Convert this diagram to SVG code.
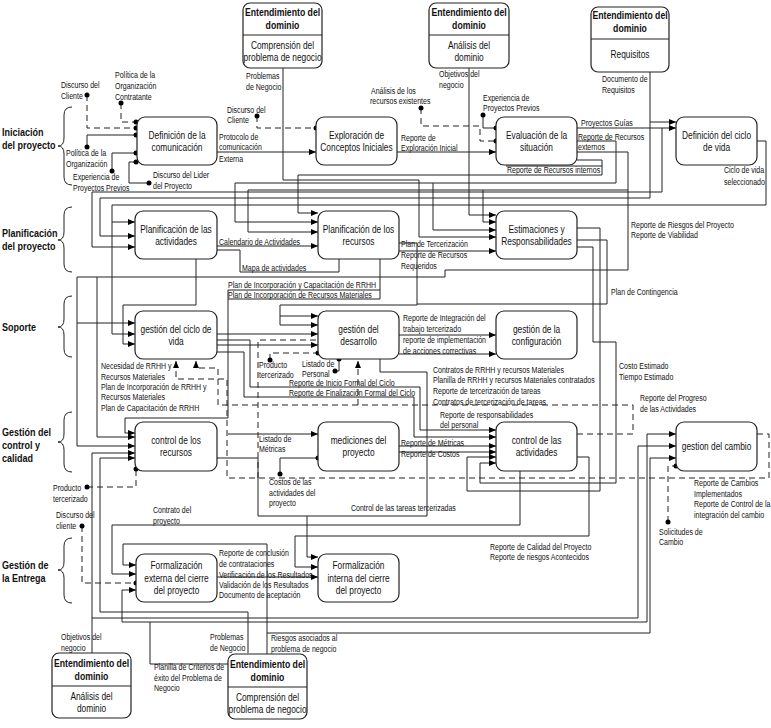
<svg xmlns="http://www.w3.org/2000/svg" width="771" height="728" viewBox="0 0 771 728">
<defs>
<marker id="a" markerWidth="7" markerHeight="6" refX="7" refY="3" orient="auto" markerUnits="userSpaceOnUse"><path d="M0,0 L7,3 L0,6 z" fill="#000"/></marker>
<marker id="d" markerWidth="6" markerHeight="6" refX="3" refY="3" markerUnits="userSpaceOnUse"><circle cx="3" cy="3" r="2.5" fill="#000"/></marker>
<style>
.c{fill:none;stroke:#222;stroke-width:1}
.ds{stroke-dasharray:6,4}
.ar{marker-end:url(#a)}
.dd{marker-start:url(#d);marker-end:url(#d)}
.box{fill:#fff;stroke:#222;stroke-width:1.2}
text{font-family:"Liberation Sans",Arial,sans-serif;fill:#111;transform-box:fill-box}
.t{font-size:11px;text-anchor:middle;transform:scaleX(.76);transform-origin:50% 50%}
.h{font-size:11px;font-weight:bold;text-anchor:middle;transform:scaleX(.79);transform-origin:50% 50%}
.l{font-size:9px;transform:scaleX(.78);transform-origin:0 50%}
.p{font-size:11px;font-weight:bold;transform:scaleX(.82);transform-origin:0 50%}
.br{fill:none;stroke:#222;stroke-width:1}
</style>
</defs>
<rect width="771" height="728" fill="#fff"/>

<g id="phases">
<text class="p" x="2" y="136">Iniciación</text><text class="p" x="2" y="149">del proyecto</text>
<path class="br" d="M72,107 Q64,107 64,115 V138 Q64,146 58,146 Q64,146 64,154 V177 Q64,185 72,185"/>
<text class="p" x="2" y="237">Planificación</text><text class="p" x="2" y="250">del proyecto</text>
<path class="br" d="M72,207 Q64,207 64,215 V232 Q64,240 58,240 Q64,240 64,248 V264 Q64,272 72,272"/>
<text class="p" x="2" y="331">Soporte</text>
<path class="br" d="M72,296 Q64,296 64,304 V319 Q64,327 58,327 Q64,327 64,335 V349 Q64,357 72,357"/>
<text class="p" x="2" y="436">Gestión del</text><text class="p" x="2" y="449">control y</text><text class="p" x="2" y="462">calidad</text>
<path class="br" d="M72,412 Q64,412 64,420 V434 Q64,442 58,442 Q64,442 64,450 V464 Q64,472 72,472"/>
<text class="p" x="2" y="569">Gestión de</text><text class="p" x="2" y="582">la Entrega</text>
<path class="br" d="M72,538 Q64,538 64,546 V562 Q64,570 58,570 Q64,570 64,578 V595 Q64,603 72,603"/>
</g>

<g id="connectors">
<path class="c ds dd" d="M87,95 V128 H136"/>
<path class="c ds dd" d="M121,103 V122 H136"/>
<path class="c dd" d="M87,147 V135 H136"/>
<path class="c dd" d="M112,171 V153 H136"/>
<path class="c dd" d="M149,183 H129 V162 H136"/>
<path class="c ar" d="M217,152 H316"/>
<path class="c ds dd" d="M257,116 V128 H316"/>
<path class="c ar" d="M283,68 V180 H419 V237 H496"/>
<path class="c ar" d="M397,152 H496"/>
<path class="c ds dd" d="M421,108 V126 H480 V141 H496"/>
<path class="c dd" d="M483,115 V128 H496"/>
<path class="c ar" d="M469,68 V215 H496"/>
<path class="c ar" d="M577,128 H676"/>
<path class="c ar" d="M650,72 V198 H100 V236 H135"/>
<path class="c ar" d="M650,122 H676"/>
<path class="c ar" d="M662,128 V192 H92 V247 H135"/>
<path class="c ar" d="M577,141 H616 V183 H235 V222 H318"/>
<path class="c ar" d="M433,183 V230 H496"/>
<path class="c ar" d="M577,152 H628 V190 H248 V232 H318"/>
<path class="c ar" d="M483,190 V222 H496"/>
<path class="c ar" d="M577,160 H602 V175 H298 V213 H318"/>
<path class="c" d="M506,166 H602"/>
<path class="c ar" d="M757,141 H766 V205 H112 V334 H135"/>
<path class="c ar" d="M112,222 H135"/>

<path class="c ar" d="M217,246 H318"/>
<path class="c" d="M217,250 H240 V272 H339 V259"/>
<path class="c ar" d="M196,259 V305 H123 V344 H135"/>
<path class="c ar" d="M399,243 H417 V305 H280 V325 H318"/>
<path class="c ar" d="M280,316 H318"/>
<path class="c ar" d="M399,251 H496"/>
<path class="c ar" d="M577,228 H600 V491 H467 V457 H496"/>
<path class="c ar" d="M577,247 H593 V342 H616 V483 H480 V463 H496"/>
<path class="c" d="M577,240 H607 V304 H417"/>
<path class="c ar" d="M628,190 V270 H445 V277 H77 V446 H135"/>
<path class="c ar" d="M77,323 H135"/>
<path class="c" d="M380,259 V299 H228"/>
<path class="c ar" d="M380,290 H228 V418 H125 V433 H135"/>
<path class="c ar" d="M97,277 V437 H135"/>

<path class="c ar" d="M217,334 H318"/>
<path class="c ar" d="M217,345 H318"/>
<path class="c ds" d="M258,478 V340 H316"/>
<path class="c ds dd" d="M270,360 V353 H318"/>
<path class="c dd" d="M335,371 H339 V359"/>
<path class="c ds ar" d="M358,405 V361"/>
<path class="c ar" d="M399,335 H496"/>
<path class="c ar" d="M399,354 H496"/>
<path class="c ar" d="M380,359 V372 H427 V516 H307 V557 H318"/>
<path class="c ar" d="M217,340 H250 V387 H420 V430 H496"/>
<path class="c ar" d="M217,352 H244 V397 H414 V437 H496"/>
<path class="c ds ar" d="M577,434 H633 V405 H218 V368 H196 V361"/>
<path class="c ds ar" d="M757,434 H769 V478 H227 V379 H176 V361"/>

<path class="c ar" d="M92,653 V453 H135"/>
<path class="c ar" d="M92,618 H638 V446 H676"/>
<path class="c ar" d="M248,653 V612 H100 V458 H135"/>
<path class="c ds dd" d="M87,487 H136 V469"/>
<path class="c ar" d="M228,434 H318"/>
<path class="c dd" d="M280,474 V458 H318"/>
<path class="c" d="M217,458 H258 V516 H307"/>
<path class="c ar" d="M399,446 H496"/>
<path class="c ar" d="M399,452 H496"/>
<path class="c ar" d="M577,457 H589 V536 H295 V567 H318"/>
<path class="c ds dd" d="M668,522 V466 H676"/>
<path class="c ar" d="M228,664 H150 V622 H122 V590 H136"/>
<path class="c ar" d="M150,622 H647 V434 H676"/>
<path class="c ar" d="M267,654 V633 H650 V458 H676"/>
<path class="c ar" d="M267,633 V544 H123 V565 H136"/>
<path class="c ar" d="M520,471 V525 H112 V574 H136"/>
<path class="c ds dd" d="M82,526 V583 H136"/>
<path class="c ar" d="M217,577 H318"/>
</g>

<g id="n-ent1"><rect class="box" x="243" y="3" width="79" height="65" rx="7"/><line class="c" x1="243" y1="35" x2="322" y2="35"/>
<text class="h" x="282.5" y="16">Entendimiento del</text><text class="h" x="282.5" y="29">dominio</text>
<text class="t" x="282.5" y="49">Comprensión del</text><text class="t" x="282.5" y="61">problema de negocio</text></g>
<g id="n-ent2"><rect class="box" x="429" y="3" width="80" height="65" rx="7"/><line class="c" x1="429" y1="35" x2="509" y2="35"/>
<text class="h" x="469" y="16">Entendimiento del</text><text class="h" x="469" y="29">dominio</text>
<text class="t" x="469" y="49">Análisis del</text><text class="t" x="469" y="61">dominio</text></g>
<g id="n-ent3"><rect class="box" x="591" y="7" width="78" height="65" rx="7"/><line class="c" x1="591" y1="39" x2="669" y2="39"/>
<text class="h" x="630" y="19">Entendimiento del</text><text class="h" x="630" y="32">dominio</text>
<text class="t" x="630" y="58">Requisitos</text></g>
<g id="n-ent4"><rect class="box" x="52" y="653" width="79" height="65" rx="7"/><line class="c" x1="52" y1="686" x2="131" y2="686"/>
<text class="h" x="91.5" y="667">Entendimiento del</text><text class="h" x="91.5" y="680">dominio</text>
<text class="t" x="91.5" y="700">Análisis del</text><text class="t" x="91.5" y="712">dominio</text></g>
<g id="n-ent5"><rect class="box" x="228" y="654" width="79" height="65" rx="7"/><line class="c" x1="228" y1="687" x2="307" y2="687"/>
<text class="h" x="267.5" y="668">Entendimiento del</text><text class="h" x="267.5" y="681">dominio</text>
<text class="t" x="267.5" y="701">Comprensión del</text><text class="t" x="267.5" y="713">problema de negocio</text></g>

<g id="n-defcom"><rect class="box" x="137" y="117" width="80" height="48" rx="8"/><text class="t" x="177" y="139">Definición de la</text><text class="t" x="177" y="151">comunicación</text></g>
<g id="n-explo"><rect class="box" x="316" y="117" width="81" height="48" rx="8"/><text class="t" x="356.5" y="139">Exploración de</text><text class="t" x="356.5" y="151">Conceptos Iniciales</text></g>
<g id="n-eval"><rect class="box" x="496" y="117" width="81" height="48" rx="8"/><text class="t" x="536.5" y="139">Evaluación de la</text><text class="t" x="536.5" y="151">situación</text></g>
<g id="n-ciclo"><rect class="box" x="676" y="117" width="81" height="48" rx="8"/><text class="t" x="716.5" y="139">Definición del ciclo</text><text class="t" x="716.5" y="151">de vida</text></g>
<g id="n-planact"><rect class="box" x="135" y="211" width="82" height="48" rx="8"/><text class="t" x="176" y="233">Planificación de las</text><text class="t" x="176" y="245">actividades</text></g>
<g id="n-planrec"><rect class="box" x="318" y="211" width="81" height="48" rx="8"/><text class="t" x="358.5" y="233">Planificación de los</text><text class="t" x="358.5" y="245">recursos</text></g>
<g id="n-estim"><rect class="box" x="496" y="211" width="81" height="48" rx="8"/><text class="t" x="536.5" y="233">Estimaciones y</text><text class="t" x="536.5" y="245">Responsabilidades</text></g>
<g id="n-gcv"><rect class="box" x="135" y="311" width="82" height="48" rx="8"/><text class="t" x="176" y="333">gestión del ciclo de</text><text class="t" x="176" y="345">vida</text></g>
<g id="n-gdes"><rect class="box" x="318" y="311" width="81" height="48" rx="8"/><text class="t" x="358.5" y="333">gestión del</text><text class="t" x="358.5" y="345">desarrollo</text></g>
<g id="n-gconf"><rect class="box" x="496" y="311" width="81" height="48" rx="8"/><text class="t" x="536.5" y="333">gestión de la</text><text class="t" x="536.5" y="345">configuración</text></g>
<g id="n-crec"><rect class="box" x="135" y="422" width="82" height="49" rx="8"/><text class="t" x="176" y="444">control de los</text><text class="t" x="176" y="456">recursos</text></g>
<g id="n-med"><rect class="box" x="318" y="422" width="81" height="49" rx="8"/><text class="t" x="358.5" y="444">mediciones del</text><text class="t" x="358.5" y="456">proyecto</text></g>
<g id="n-cact"><rect class="box" x="496" y="422" width="81" height="49" rx="8"/><text class="t" x="536.5" y="444">control de las</text><text class="t" x="536.5" y="456">actividades</text></g>
<g id="n-gcam"><rect class="box" x="676" y="422" width="81" height="49" rx="8"/><text class="t" x="716.5" y="450">gestion del cambio</text></g>
<g id="n-fext"><rect class="box" x="136" y="554" width="81" height="48" rx="8"/><text class="t" x="176.5" y="569">Formalización</text><text class="t" x="176.5" y="582">externa del cierre</text><text class="t" x="176.5" y="594">del proyecto</text></g>
<g id="n-fint"><rect class="box" x="318" y="554" width="81" height="48" rx="8"/><text class="t" x="358.5" y="569">Formalización</text><text class="t" x="358.5" y="582">interna del cierre</text><text class="t" x="358.5" y="594">del proyecto</text></g>

<g id="labels">
<text class="l" x="246" y="79">Problemas</text><text class="l" x="246" y="90">de Negocio</text>
<text class="l" x="439" y="77">Objetivos del</text><text class="l" x="439" y="88">negocio</text>
<text class="l" x="602" y="82">Documento de</text><text class="l" x="602" y="93">Requisitos</text>
<text class="l" x="61" y="88">Discurso del</text><text class="l" x="61" y="99">Cliente</text>
<text class="l" x="115" y="78">Política de la</text><text class="l" x="115" y="89">Organización</text><text class="l" x="115" y="100">Contratante</text>
<text class="l" x="66" y="156">Política de la</text><text class="l" x="66" y="167">Organización</text>
<text class="l" x="73" y="180">Experiencia de</text><text class="l" x="73" y="191">Proyectos Previos</text>
<text class="l" x="153" y="178">Discurso del Lider</text><text class="l" x="153" y="189">del Proyecto</text>
<text class="l" x="227" y="113">Discurso del</text><text class="l" x="227" y="123">Cliente</text>
<text class="l" x="219" y="140">Protocolo de</text><text class="l" x="219" y="150">comunicación</text><text class="l" x="219" y="162">Externa</text>
<text class="l" x="401" y="141">Reporte de</text><text class="l" x="401" y="151">Exploración Inicial</text>
<text class="l" x="371" y="94">Análisis de los</text><text class="l" x="370" y="104">recursos existentes</text>
<text class="l" x="483" y="101">Experiencia de</text><text class="l" x="483" y="111">Proyectos Previos</text>
<text class="l" x="581" y="126">Proyectos Guías</text>
<text class="l" x="578" y="140">Reporte de Recursos</text><text class="l" x="578" y="150">externos</text>
<text class="l" x="507" y="173">Reporte de Recursos internos</text>
<text class="l" x="724" y="173">Ciclo de vida</text><text class="l" x="724" y="185">seleccionado</text>
<text class="l" x="219" y="245">Calendario de Actividades</text>
<text class="l" x="242" y="271">Mapa de actividades</text>
<text class="l" x="228" y="288">Plan de Incorporación y Capacitación de RRHH</text>
<text class="l" x="228" y="298">Plan de Incorporación de Recursos Materiales</text>
<text class="l" x="401" y="247">Plan de Tercerización</text><text class="l" x="401" y="258">Reporte de Recursos</text><text class="l" x="401" y="269">Requeridos</text>
<text class="l" x="631" y="228">Reporte de Riesgos del Proyecto</text><text class="l" x="631" y="238">Reporte de Viabilidad</text>
<text class="l" x="611" y="295">Plan de Contingencia</text>
<text class="l" x="403" y="321">Reporte de Integración del</text><text class="l" x="403" y="332">trabajo tercerizado</text>
<text class="l" x="403" y="343">reporte de implementación</text><text class="l" x="403" y="354">de acciones correctivas</text>
<text class="l" x="619" y="369">Costo Estimado</text><text class="l" x="619" y="380">Tiempo Estimado</text>
<text class="l" x="101" y="369">Necesidad de RRHH y</text><text class="l" x="101" y="380">Recursos Materiales</text>
<text class="l" x="101" y="390">Plan de Incorporación de RRHH y</text><text class="l" x="101" y="400">Recursos Materiales</text>
<text class="l" x="101" y="411">Plan de Capacitación de RRHH</text>
<text class="l" x="259" y="368">Producto</text><text class="l" x="259" y="378">tercerizado</text>
<text class="l" x="302" y="367">Listado de</text><text class="l" x="302" y="377">Personal</text>
<text class="l" x="289" y="386">Reporte de Inicio Formal del Ciclo</text>
<text class="l" x="289" y="396">Reporte de Finalización Formal del Ciclo</text>
<text class="l" x="433" y="373">Contratos de RRHH y recursos Materiales</text>
<text class="l" x="433" y="383">Planilla de   RRHH y recursos Materiales contratados</text>
<text class="l" x="433" y="394">Reporte de tercerización de tareas</text>
<text class="l" x="433" y="405">Contratos de tercerización de tareas</text>
<text class="l" x="440" y="418">Reporte de responsabilidades</text><text class="l" x="440" y="428">del personal</text>
<text class="l" x="640" y="401">Reporte del Progreso</text><text class="l" x="640" y="412">de las Actividades</text>
<text class="l" x="259" y="442">Listado de</text><text class="l" x="259" y="452">Métricas</text>
<text class="l" x="401" y="446">Reporte de Métricas</text><text class="l" x="401" y="457">Reporte de Costos</text>
<text class="l" x="269" y="485">Costos de las</text><text class="l" x="269" y="496">actividades del</text><text class="l" x="269" y="506">proyecto</text>
<text class="l" x="351" y="511">Control de las tareas tercerizadas</text>
<text class="l" x="694" y="486">Reporte de Cambios</text><text class="l" x="694" y="497">Implementados</text>
<text class="l" x="694" y="507">Reporte de Control de la</text><text class="l" x="694" y="518">integración del cambio</text>
<text class="l" x="659" y="535">Solicitudes de</text><text class="l" x="659" y="545">Cambio</text>
<text class="l" x="53" y="491">Producto</text><text class="l" x="53" y="502">tercerizado</text>
<text class="l" x="56" y="518">Discurso del</text><text class="l" x="56" y="529">cliente</text>
<text class="l" x="153" y="513">Contrato del</text><text class="l" x="153" y="524">proyecto</text>
<text class="l" x="219" y="556">Reporte de conclusión</text><text class="l" x="219" y="567">de contrataciones</text>
<text class="l" x="219" y="578">Verificación de los Resultados</text><text class="l" x="219" y="588">Validación de los Resultados</text>
<text class="l" x="219" y="598">Documento de aceptación</text>
<text class="l" x="490" y="550">Reporte de Calidad del Proyecto</text><text class="l" x="490" y="560">Reporte de riesgos Acontecidos</text>
<text class="l" x="61" y="640">Objetivos del</text><text class="l" x="61" y="651">negocio</text>
<text class="l" x="210" y="640">Problemas</text><text class="l" x="210" y="651">de Negocio</text>
<text class="l" x="154" y="670">Planilla de Criterios de</text><text class="l" x="154" y="681">éxito del Problema de</text><text class="l" x="154" y="691">Negocio</text>
<text class="l" x="271" y="641">Riesgos asociados al</text><text class="l" x="271" y="652">problema de negocio</text>
</g>
</svg>
